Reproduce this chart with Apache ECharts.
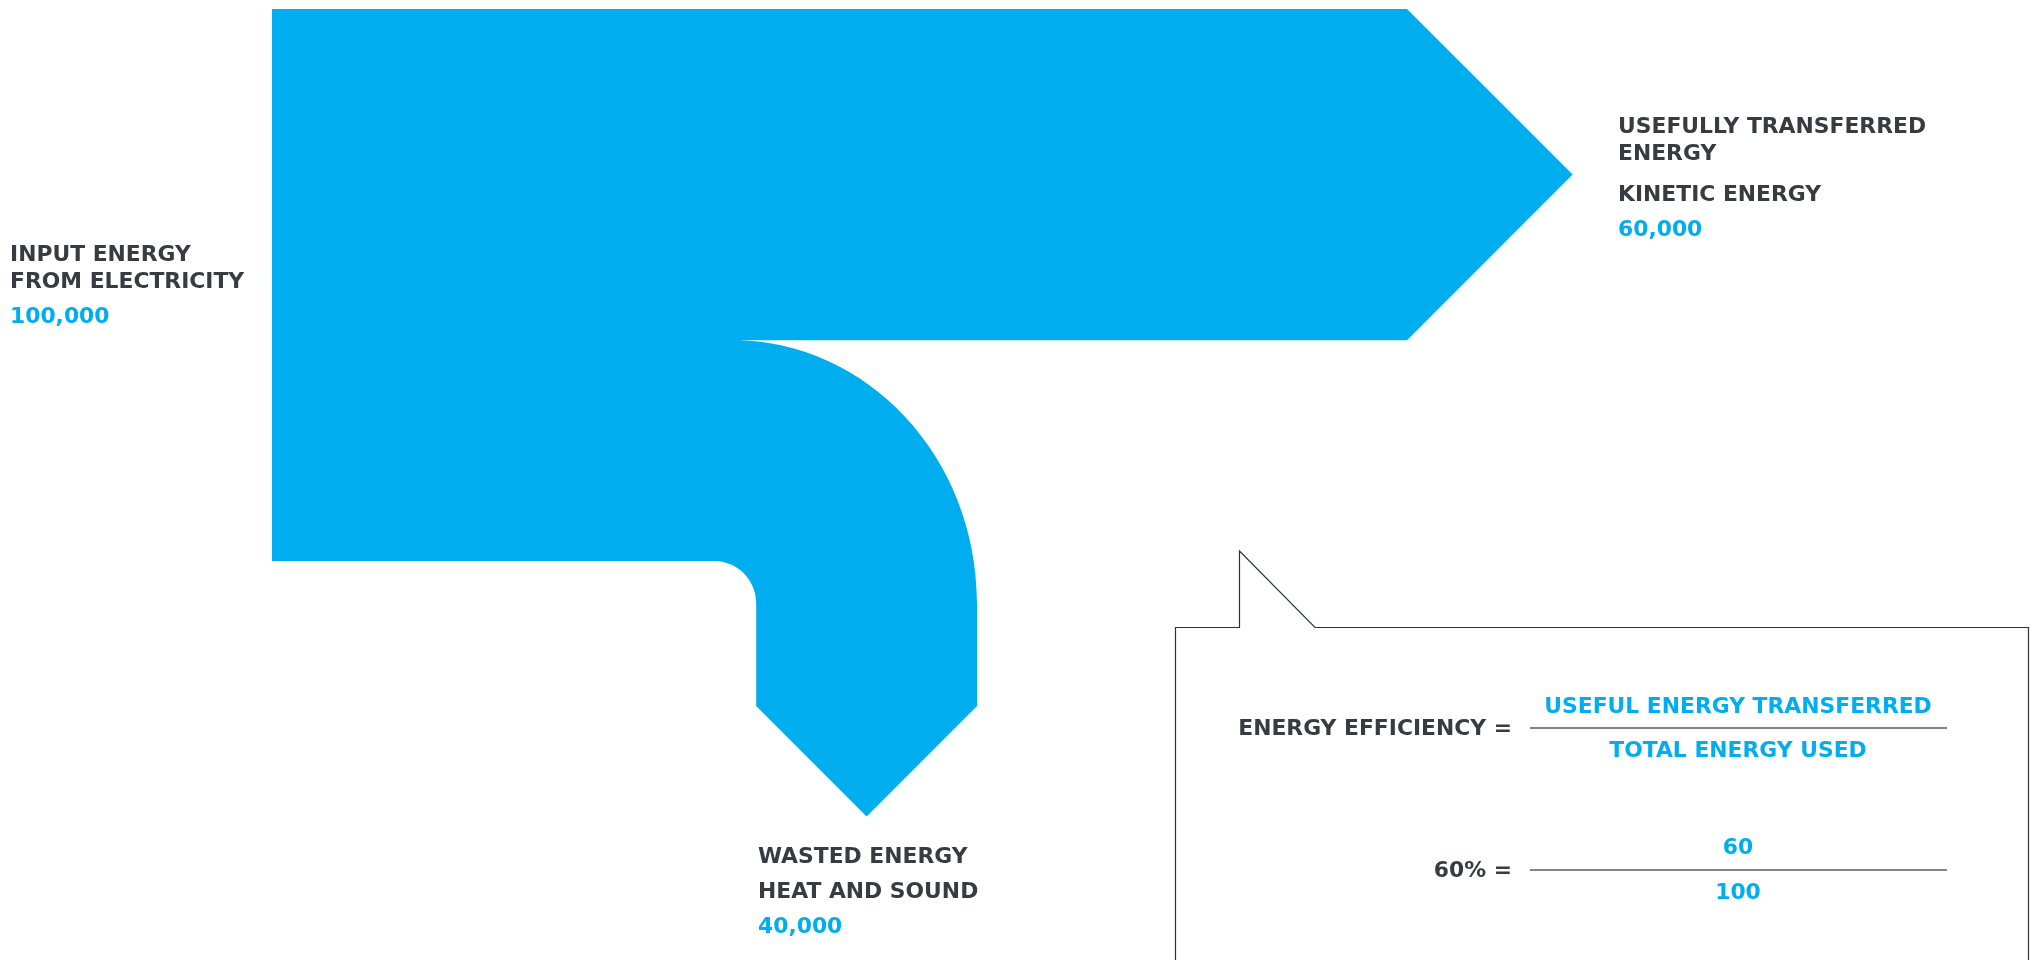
<!DOCTYPE html>
<html>
<head>
<meta charset="utf-8">
<script src="https://cdn.jsdelivr.net/npm/echarts@6/dist/echarts.min.js"></script>
<style>
  html, body { margin: 0; padding: 0; background: #ffffff; }
  #chart { width: 2031px; height: 960px; }
</style>
</head>
<body>
<div id="chart"></div>
<script>
// ---- data ----
const nodeIds = ['input', 'useful', 'wasted'];
const nodeTitles = [
  ['INPUT ENERGY', 'FROM ELECTRICITY'],
  ['USEFULLY TRANSFERRED', 'ENERGY'],
  ['WASTED ENERGY']
];
const nodeSubtitles = ['', 'KINETIC ENERGY', 'HEAT AND SOUND'];
const nodeValues = [100000, 60000, 40000];
const formulaLabel = 'ENERGY EFFICIENCY =';
const formulaNumerator = 'USEFUL ENERGY TRANSFERRED';
const formulaDenominator = 'TOTAL ENERGY USED';

// ---- style ----
const FLOW = '#00aeef';
const DARK = '#363c41';
const BLUE = '#00aeef';
const FONT = 'bold 21px "DejaVu Sans"';
const STRETCH = 1.04;

const fmt = v => v.toLocaleString('en-US');
const pct = Math.round(nodeValues[1] / nodeValues[0] * 100);

const chart = echarts.init(document.getElementById('chart'), null, { renderer: 'canvas' });

function renderItem(params, api) {
  const idx = params.dataIndex;
  const o = api.coord([0, 0]);                 // top-left of input node
  const x0 = o[0], y0 = o[1];
  const tIn = api.size([0, nodeValues[0]])[1];
  const tUse = api.size([0, nodeValues[1]])[1];
  const tWaste = api.size([0, nodeValues[2]])[1];
  if (idx === 0) {
    return { type: 'rect', shape: { x: x0, y: y0, width: 470, height: tIn }, style: { fill: FLOW } };
  }
  if (idx === 1) {
    const bodyEnd = 1407;
    return {
      type: 'polygon',
      shape: { points: [[x0, y0], [bodyEnd, y0], [bodyEnd + tUse / 2, y0 + tUse / 2], [bodyEnd, y0 + tUse], [x0, y0 + tUse]] },
      style: { fill: FLOW }
    };
  }
  // wasted elbow
  const yTop = y0 + tUse;
  const yBot = yTop + tWaste;
  const xR = 977;
  const xL = xR - tWaste;
  const xStart = 733;
  const r = 42;
  const yTurn = yBot + r;
  const yArrow = 706;
  const k = 0.5523;
  const rx = xR - xStart, ry = yTurn - yTop;
  const d = [
    'M', x0, yTop,
    'L', xStart, yTop,
    'C', xStart + rx * k, yTop, xR, yTurn - ry * k, xR, yTurn,
    'L', xR, yArrow,
    'L', (xL + xR) / 2, yArrow + tWaste / 2,
    'L', xL, yArrow,
    'L', xL, yTurn,
    'C', xL, yTurn - r * k, xL - r + r * k, yBot, xL - r, yBot,
    'L', x0, yBot, 'Z'
  ].join(' ');
  return { type: 'path', shape: { pathData: d }, style: { fill: FLOW } };
}

function txt(text, x, y, color, align) {
  return {
    type: 'text',
    x: x, y: y + 2,
    scaleX: STRETCH,
    style: { text: text, x: 0, y: 0, fill: color, font: FONT, textAlign: align || 'left', textVerticalAlign: 'middle' }
  };
}

const g = [];
// input labels
g.push(txt(nodeTitles[0][0], 10, 254, DARK));
g.push(txt(nodeTitles[0][1], 10, 281, DARK));
g.push(txt(fmt(nodeValues[0]), 10, 316, BLUE));
// useful labels
g.push(txt(nodeTitles[1][0], 1618, 126, DARK));
g.push(txt(nodeTitles[1][1], 1618, 153, DARK));
g.push(txt(nodeSubtitles[1], 1618, 194, DARK));
g.push(txt(fmt(nodeValues[1]), 1618, 229, BLUE));
// wasted labels
g.push(txt(nodeTitles[2][0], 758, 856, DARK));
g.push(txt(nodeSubtitles[2], 758, 891, DARK));
g.push(txt(fmt(nodeValues[2]), 758, 926, BLUE));

// callout box
g.push({
  type: 'polyline',
  shape: { points: [[1175.5, 962], [1175.5, 627.5], [1239.5, 627.5], [1239.5, 551], [1315, 627.5], [2028.5, 627.5], [2028.5, 962]] },
  style: { stroke: '#2f3438', lineWidth: 1.2, fill: null }
});
// formula 1
g.push(txt(formulaLabel, 1512, 728, DARK, 'right'));
g.push(txt(formulaNumerator, 1738, 706, BLUE, 'center'));
g.push(txt(formulaDenominator, 1738, 750, BLUE, 'center'));
g.push({ type: 'line', shape: { x1: 1530, y1: 728, x2: 1947, y2: 728 }, style: { stroke: '#565b5f', lineWidth: 1.5 } });
// formula 2
g.push(txt(pct + '% =', 1512, 870, DARK, 'right'));
g.push(txt(String(nodeValues[1] / 1000), 1738, 847, BLUE, 'center'));
g.push(txt(String(nodeValues[0] / 1000), 1738, 892, BLUE, 'center'));
g.push({ type: 'line', shape: { x1: 1530, y1: 870, x2: 1947, y2: 870 }, style: { stroke: '#565b5f', lineWidth: 1.5 } });

chart.setOption({
  animation: false,
  backgroundColor: '#ffffff',
  grid: { left: 272, top: 9, width: 552, height: 552 },
  xAxis: { type: 'value', min: 0, max: 100000, show: false },
  yAxis: { type: 'value', min: 0, max: 100000, inverse: true, show: false },
  series: [{
    type: 'custom',
    clip: false,
    silent: true,
    renderItem: renderItem,
    data: nodeIds.map((id, i) => ({ name: id, value: [i, nodeValues[i]] }))
  }],
  graphic: { elements: g }
});
</script>
</body>
</html>
